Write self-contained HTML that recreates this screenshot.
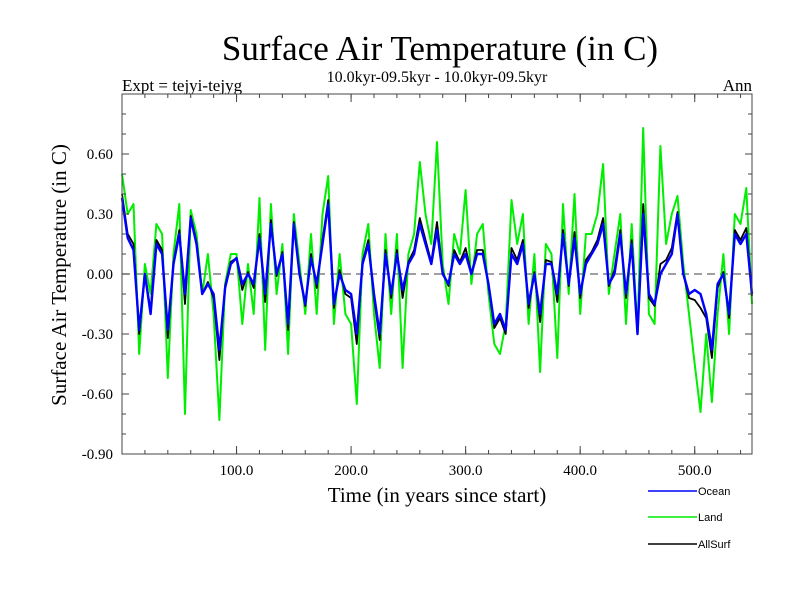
<!DOCTYPE html>
<html><head><meta charset="utf-8"><style>
body{margin:0;background:#fff}
svg{display:block;font-family:"Liberation Serif",serif}
</style></head><body>
<svg id="chart" width="800" height="600">
<rect width="800" height="600" fill="#fff"/>
<text x="440" y="60" font-size="35" text-anchor="middle">Surface Air Temperature (in C)</text>
<text x="122" y="91" font-size="17">Expt = tejyi-tejyg</text>
<text x="437" y="82" font-size="16" text-anchor="middle">10.0kyr-09.5kyr - 10.0kyr-09.5kyr</text>
<text x="752" y="91" font-size="17" text-anchor="end">Ann</text>
<text x="437" y="502" font-size="21" text-anchor="middle">Time (in years since start)</text>
<text transform="translate(66,275) rotate(-90)" font-size="21" text-anchor="middle">Surface Air Temperature (in C)</text>
<g id="plot"></g>
<g font-family="Liberation Sans, sans-serif" font-size="11">
<line x1="648" y1="491" x2="697" y2="491" stroke="#0000ff" stroke-width="1.5"/>
<text x="698" y="495">Ocean</text>
<line x1="648" y1="517" x2="697" y2="517" stroke="#00ee00" stroke-width="1.5"/>
<text x="698" y="521">Land</text>
<line x1="648" y1="544" x2="697" y2="544" stroke="#000" stroke-width="1.5"/>
<text x="698" y="548">AllSurf</text>
</g>
</svg>
<script>
const years = [0,5,10,15,20,25,30,35,40,45,50,55,60,65,70,75,80,85,90,95,100,105,110,115,120,125,130,135,140,145,150,155,160,165,170,175,180,185,190,195,200,205,210,215,220,225,230,235,240,245,250,255,260,265,270,275,280,285,290,295,300,305,310,315,320,325,330,335,340,345,350,355,360,365,370,375,380,385,390,395,400,405,410,415,420,425,430,435,440,445,450,455,460,465,470,475,480,485,490,495,500,505,510,515,520,525,530,535,540,545,550];
const ocean = [0.38,0.18,0.12,-0.28,0.0,-0.2,0.15,0.1,-0.28,0.05,0.2,-0.1,0.28,0.15,-0.1,-0.05,-0.1,-0.38,-0.07,0.05,0.08,-0.05,0.0,-0.05,0.18,-0.1,0.25,0.0,0.1,-0.25,0.25,0.0,-0.15,0.08,-0.05,0.15,0.35,-0.15,0.0,-0.08,-0.1,-0.3,0.05,0.15,-0.1,-0.3,0.1,-0.1,0.1,-0.08,0.05,0.1,0.25,0.15,0.05,0.22,0.0,-0.05,0.1,0.05,0.1,0.0,0.1,0.1,-0.05,-0.25,-0.2,-0.28,0.1,0.05,0.15,-0.15,0.0,-0.2,0.05,0.05,-0.1,0.2,-0.05,0.18,-0.1,0.05,0.1,0.15,0.25,-0.05,0.0,0.2,-0.1,0.15,-0.3,0.3,-0.1,-0.15,0.0,0.05,0.1,0.3,0.0,-0.1,-0.08,-0.1,-0.2,-0.38,-0.05,0.0,-0.2,0.2,0.15,0.2,-0.1];
const land = [0.5,0.3,0.35,-0.4,0.05,-0.1,0.25,0.2,-0.52,0.1,0.35,-0.7,0.32,0.2,-0.1,0.1,-0.2,-0.73,-0.05,0.1,0.1,-0.25,0.05,-0.2,0.38,-0.38,0.35,-0.1,0.15,-0.4,0.3,0.05,-0.2,0.2,-0.2,0.3,0.49,-0.25,0.1,-0.2,-0.25,-0.65,0.1,0.25,-0.2,-0.47,0.2,-0.2,0.2,-0.47,0.1,0.2,0.56,0.3,0.15,0.66,0.05,-0.15,0.2,0.1,0.42,-0.05,0.2,0.25,-0.1,-0.35,-0.4,-0.25,0.37,0.15,0.3,-0.25,0.1,-0.49,0.15,0.1,-0.42,0.35,-0.1,0.4,-0.2,0.2,0.2,0.3,0.55,-0.1,0.1,0.3,-0.25,0.25,-0.3,0.73,-0.2,-0.25,0.64,0.15,0.3,0.39,0.05,-0.2,-0.45,-0.69,-0.3,-0.64,-0.2,0.1,-0.3,0.3,0.25,0.43,-0.15];
const allsurf = [0.4,0.2,0.15,-0.3,0.0,-0.18,0.17,0.12,-0.32,0.06,0.22,-0.15,0.29,0.16,-0.1,-0.04,-0.12,-0.43,-0.06,0.06,0.08,-0.08,0.01,-0.07,0.2,-0.14,0.27,-0.01,0.11,-0.28,0.26,0.0,-0.16,0.1,-0.07,0.17,0.37,-0.17,0.02,-0.1,-0.12,-0.35,0.06,0.17,-0.12,-0.33,0.12,-0.12,0.12,-0.12,0.06,0.12,0.28,0.17,0.06,0.26,0.01,-0.06,0.12,0.06,0.13,0.0,0.12,0.12,-0.06,-0.27,-0.22,-0.3,0.13,0.07,0.17,-0.17,0.01,-0.24,0.07,0.06,-0.14,0.22,-0.06,0.21,-0.12,0.07,0.11,0.17,0.28,-0.06,0.02,0.22,-0.12,0.17,-0.3,0.35,-0.12,-0.16,0.05,0.07,0.13,0.31,0.0,-0.12,-0.13,-0.17,-0.22,-0.42,-0.07,0.01,-0.22,0.22,0.17,0.23,-0.11];
const yTicks = [0.6,0.3,0.0,-0.3,-0.6,-0.9];
const yTickLabels = ["0.60","0.30","0.00","-0.30","-0.60","-0.90"];
const xTicks = [100,200,300,400,500];
const xTickLabels = ["100.0","200.0","300.0","400.0","500.0"];

const L=122,R=752,T=94,B=454,X0=0,X1=550,Y0=-0.9,Y1=0.9;
const xs=v=>L+(v-X0)/(X1-X0)*(R-L);
const ys=v=>B-(v-Y0)/(Y1-Y0)*(B-T);
const NS="http://www.w3.org/2000/svg";
const g=document.getElementById('plot');
function mk(tag,attrs){const e=document.createElementNS(NS,tag);for(const k in attrs)e.setAttribute(k,attrs[k]);g.appendChild(e);return e;}

const zl=mk('line',{x1:L,x2:R,y1:ys(0),y2:ys(0),stroke:'#666','stroke-dasharray':'8,5','stroke-width':1.2});



function series(vals,color,w,name){
  const d=years.map((x,i)=>(i?'L':'M')+xs(x).toFixed(1)+','+ys(vals[i]).toFixed(1)).join('');
  const p=mk('path',{d:d,fill:'none',stroke:color,'stroke-width':w,'stroke-linejoin':'round'});
  
  
}
series(land,'#00ee00',2,'land-series');
series(allsurf,'#000000',1.8,'allsurf-series');
series(ocean,'#0000ff',2.4,'ocean-series');

const fr=mk('rect',{x:L,y:T,width:R-L,height:B-T,fill:'none',stroke:'#444','stroke-width':1});



for(let v=-0.9;v<=0.901;v+=0.1){
  const big=Math.abs(Math.round(v*100)%30)===0;
  const len=big?7:4;
  mk('line',{x1:L,x2:L+len,y1:ys(v),y2:ys(v),stroke:'#444'});
  mk('line',{x1:R,x2:R-len,y1:ys(v),y2:ys(v),stroke:'#444'});
}
for(let v=20;v<550;v+=20){
  mk('line',{x1:xs(v),x2:xs(v),y1:B,y2:B-4,stroke:'#444'});
  mk('line',{x1:xs(v),x2:xs(v),y1:T,y2:T+4,stroke:'#444'});
}
xTicks.forEach((v,i)=>{
  mk('line',{x1:xs(v),x2:xs(v),y1:B,y2:B-8,stroke:'#444'});
  mk('line',{x1:xs(v),x2:xs(v),y1:T,y2:T+8,stroke:'#444'});
  const t=mk('text',{x:xs(v),y:B+21,'font-size':15,'text-anchor':'middle'});
  t.textContent=xTickLabels[i];
  
  
});
yTicks.forEach((v,i)=>{
  const t=mk('text',{x:L-9,y:ys(v)+5,'font-size':15,'text-anchor':'end'});
  t.textContent=yTickLabels[i];
  
  
});
</script>
</body></html>
